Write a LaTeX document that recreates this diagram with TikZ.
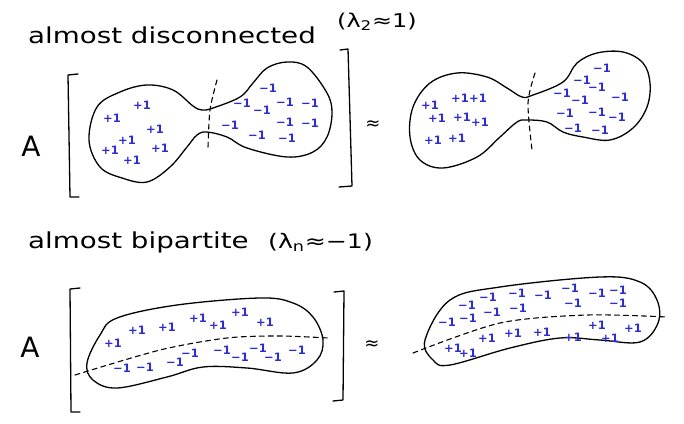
\documentclass[tikz,border=0pt]{standalone}
\usepackage{fontspec}
\setmainfont{DejaVu Sans}
\usetikzlibrary{positioning}
\definecolor{penblue}{RGB}{45,45,205}
\newcommand{\wide}[1]{\scalebox{1.26}[1]{#1}}
\begin{document}
\begin{tikzpicture}[x=1pt, y=-1pt, line cap=round, line join=round]
  % Styles
  \tikzset{
    ink/.style={line width=1.3pt},
    cut/.style={line width=1.1pt, dash pattern=on 5pt off 4pt},
    lbl/.style={text=penblue, font=\fontsize{11.5}{11.5}\selectfont\bfseries, inner sep=0pt},
    title/.style={font=\fontsize{22}{22}\selectfont, anchor=base west, inner sep=0pt},
    bigA/.style={font=\fontsize{28}{28}\selectfont, inner sep=0pt},
    approx/.style={font=\fontsize{18}{18}\selectfont, inner sep=0pt}
  }
  \useasboundingbox (0,0) rectangle (684,423);

  % Titles
  \node[title] (discTitle) at (28,43) {\wide{almost disconnected}};
  \node[title, font=\fontsize{19}{19}\selectfont] (discLam) at (337,27) {\wide{(λ\textsubscript{2}≈1)}};
  \node[title] (bipTitle) at (28,248) {\wide{almost bipartite}};
  \node[title, font=\fontsize{20}{20}\selectfont] (bipLam) at (268,248) {\wide{(λ\textsubscript{n}≈−1)}};

  % Matrix letters and approx signs
  \node[bigA] (matA) at (31,146) {A};
  \node[bigA] (matB) at (30,347) {A};
  \node[approx] (simA) at (373,125) {≈};
  \node[approx] (simB) at (372,345) {≈};

  % Brackets
  \draw[ink] (78,74) -- (68,75) -- (70,197) -- (79,197);
  \draw[ink] (340,50) -- (348,49) -- (352,186) -- (339,187);
  \draw[ink] (80,288) -- (70,289) -- (71,412) -- (80,412);
  \draw[ink] (334,292) -- (344,291) -- (343,400) -- (333,401);

  % Dumbbell inside the matrix
  \draw[ink] plot[smooth cycle, tension=0.6] coordinates {
    (202,110) (193,106) (173,90) (147,85) (120,92) (97,107) (89,140)
    (100,167) (122,178) (147,182) (170,167) (187,147) (197,135) (207,132)
    (227,137) (247,148) (287,157) (313,152) (327,137) (332,113) (327,93)
    (307,67) (287,62) (267,68) (253,83) (240,97) (213,108)};
  \draw[cut] plot[smooth] coordinates {(217,80) (210,110) (208,148)};

  % Dumbbell on the right
  \draw[ink] plot[smooth cycle, tension=0.6] coordinates {
    (522,97) (507,88) (487,77) (457,73) (430,83) (413,107) (410,137)
    (420,160) (443,168) (477,157) (500,137) (517,122) (527,120) (547,122)
    (563,132) (583,137) (610,140) (633,128) (647,107) (650,83) (643,63)
    (623,52) (597,53) (577,63) (563,82) (533,95)};
  \draw[cut] plot[smooth] coordinates {(535,73) (528,103) (532,150)};

  % Pill inside the matrix
  \draw[ink] plot[smooth cycle, tension=0.6] coordinates {
    (87,363) (100,335) (117,318) (177,305) (260,298) (293,303) (313,317)
    (323,340) (317,360) (293,373) (247,368) (203,367) (167,377) (117,388)
    (93,380)};
  \draw[cut] plot[smooth] coordinates {(75,375) (160,350) (227,338) (280,336) (328,338)};

  % Pill on the right
  \draw[ink] plot[smooth cycle, tension=0.6] coordinates {
    (425,340) (450,300) (500,287) (600,277) (640,282) (657,300) (658,323)
    (640,342) (600,340) (560,338) (510,348) (450,365) (433,360)};
  \draw[cut] plot[smooth] coordinates {(413,353) (500,323) (587,315) (667,317)};

  % Vertex signs
  \foreach \p [count=\i] in {(112,118),(142,105),(155,129),(127,140),(110,150),(132,160),(160,148)}
    \node[lbl] (plusA\i) at \p {+1};
  \foreach \p [count=\i] in {(268,88),(242,103),(262,110),(285,102),(310,103),(230,125),(257,135),(285,122),(310,123),(287,138)}
    \node[lbl] (minusA\i) at \p {−1};
  \foreach \p [count=\i] in {(430,105),(460,98),(478,98),(437,118),(462,117),(480,122),(433,140),(457,138)}
    \node[lbl] (plusB\i) at \p {+1};
  \foreach \p [count=\i] in {(602,68),(582,80),(597,87),(562,93),(580,100),(620,97),(565,113),(597,112),(617,117),(573,128),(600,130)}
    \node[lbl] (minusB\i) at \p {−1};
  \foreach \p [count=\i] in {(113,343),(137,330),(167,327),(198,318),(218,325),(240,312),(265,322)}
    \node[lbl] (plusC\i) at \p {+1};
  \foreach \p [count=\i] in {(122,368),(145,367),(175,362),(190,353),(222,350),(240,357),(258,348),(273,357),(297,350)}
    \node[lbl] (minusC\i) at \p {−1};
  \foreach \p [count=\i] in {(467,305),(488,297),(517,293),(543,295),(570,288),(597,293),(618,290),(447,322),(468,318),(492,312),(518,308),(573,303),(618,303)}
    \node[lbl] (minusD\i) at \p {−1};
  \foreach \p [count=\i] in {(453,348),(468,353),(487,338),(513,333),(542,332),(573,337),(597,325),(610,338),(633,328)}
    \node[lbl] (plusD\i) at \p {+1};
\end{tikzpicture}
\end{document}
